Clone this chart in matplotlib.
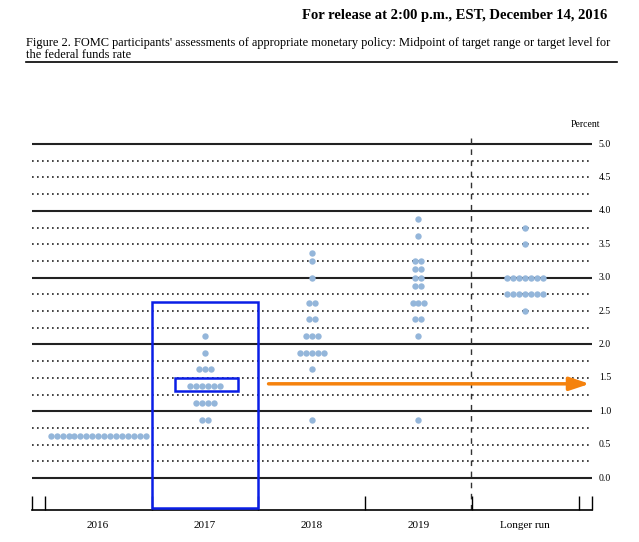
import matplotlib
matplotlib.use('Agg')
import matplotlib.pyplot as plt
from matplotlib.patches import Rectangle
import numpy as np

plt.rcParams['font.family'] = ['Liberation Serif', 'DejaVu Serif']

columns = ['2016', '2017', '2018', '2019', 'Longer run']
# (rate, number of participants) per column
dots_2016 = [(0.625, 17)]
dots_2017 = [(2.125, 1), (1.875, 1), (1.625, 3), (1.375, 6), (1.125, 4), (0.875, 2)]
dots_2018 = [(3.375, 1), (3.25, 1), (3.0, 1), (2.625, 2), (2.375, 2), (2.125, 3),
             (1.875, 5), (1.625, 1), (0.875, 1)]
dots_2019 = [(3.875, 1), (3.625, 1), (3.25, 2), (3.125, 2), (3.0, 2), (2.875, 2),
             (2.625, 3), (2.375, 2), (2.125, 1), (0.875, 1)]
dots_long = [(3.75, 1), (3.5, 1), (3.0, 7), (2.75, 7), (2.5, 1)]
all_dots = [dots_2016, dots_2017, dots_2018, dots_2019, dots_long]

y_labels = np.arange(0, 5.01, 0.5)

W, H = 639, 542
fig = plt.figure(figsize=(W / 100, H / 100), dpi=100)
# axes placed in pixel terms: x 32..592, y 138..510
ax = fig.add_axes([32 / W, 1 - 510 / H, 560 / W, (510 - 138) / H])
ax.set_xlim(-0.62, 4.626)
ax.set_ylim(-0.479, 5.09)

for v in np.arange(0, 5.01, 0.25):
    if abs(v - round(v)) < 1e-9:
        ax.axhline(v, color='#222222', lw=1.5, zorder=1)
    else:
        ax.axhline(v, color='#222222', lw=1.2, ls=(0, (1, 2)), zorder=1)

for v in y_labels:
    ax.text(4.69, v, f'{v:.1f}', fontsize=7, va='center', ha='left')
ax.text(4.56, 5.22, 'Percent', fontsize=7, ha='center', va='bottom')

ax.axvline(3.49, color='#333333', lw=1, ls=(0, (4, 4)), zorder=1)

sp = 0.0555
for i, col in enumerate(all_dots):
    for rate, n in col:
        xs = i + (np.arange(n) - (n - 1) / 2) * sp
        ax.plot(xs, [rate] * n, 'o', color='#94b6da', ms=4.6, mec='none', zorder=3)

# blue highlight boxes and orange arrow
ax.add_patch(Rectangle((0.50, -0.45), 1.0, 3.08, fill=False, ec='#0a1ee6', lw=1.8, zorder=4))
ax.add_patch(Rectangle((0.72, 1.30), 0.59, 0.20, fill=False, ec='#0a1ee6', lw=1.8, zorder=4))
ax.annotate('', xy=(4.63, 1.41), xytext=(1.57, 1.41),
            arrowprops=dict(arrowstyle='-|>,head_length=1.2,head_width=0.4', color='#f5820d', lw=2.5), zorder=5)

for s in ['top', 'left', 'right']:
    ax.spines[s].set_visible(False)
ax.spines['bottom'].set_linewidth(1.2)
ax.set_yticks([])
ax.set_xticks([-0.62, -0.5, 0.5, 1.5, 2.5, 3.5, 4.5, 4.626])
ax.set_xticklabels([])
ax.tick_params(axis='x', direction='in', length=10, width=1)
for i, c in enumerate(columns):
    ax.text(i, -0.65, c, fontsize=8, ha='center', va='top')

fig.text(607 / W, 1 - 16 / H, 'For release at 2:00 p.m., EST, December 14, 2016',
         fontsize=10.5, fontweight='bold', ha='right', va='center')
fig.text(26 / W, 1 - 43 / H, "Figure 2. FOMC participants' assessments of appropriate monetary policy: Midpoint of target range or target level for",
         fontsize=8.9, ha='left', va='center')
fig.text(26 / W, 1 - 55 / H, 'the federal funds rate', fontsize=8.9, ha='left', va='center')
fig.add_artist(plt.Line2D([26 / W, 617 / W], [1 - 62 / H, 1 - 62 / H], color='black', lw=1.2))

fig.savefig('out.png', dpi=100)
